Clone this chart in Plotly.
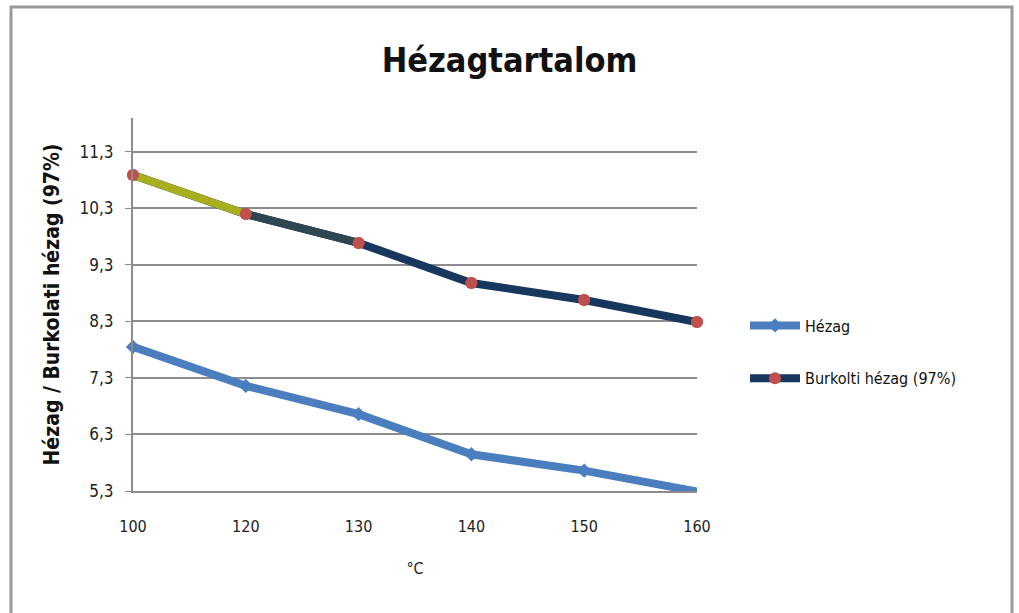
import plotly.graph_objects as go

# ---- data ----
temps = ["100", "120", "130", "140", "150", "160"]
hezag = [7.85, 7.16, 6.66, 5.95, 5.66, 5.29]
burkolati = [10.89, 10.20, 9.69, 8.98, 8.68, 8.29]
series_names = ["Hézag", "Burkolti hézag (97%)"]
y_ticks = [5.3, 6.3, 7.3, 8.3, 9.3, 10.3, 11.3]

FONT = "Liberation Sans Narrow, DejaVu Sans Condensed, Arial Narrow, sans-serif"
BLUE = "#4A7EBF"
NAVY = "#17375E"
RED = "#C0504D"
GRID = "#8C8C8C"

fig = go.Figure()

fig.add_trace(go.Scatter(
    x=temps, y=hezag, name=series_names[0], mode="lines+markers",
    line=dict(color=BLUE, width=8),
    marker=dict(symbol="diamond", size=11, color=BLUE),
    legendgroup="a", cliponaxis=False,
))

fig.add_trace(go.Scatter(
    x=temps, y=burkolati, name=series_names[1], mode="lines+markers",
    line=dict(color=NAVY, width=8),
    marker=dict(symbol="circle", size=12, color=RED),
    legendgroup="b", cliponaxis=False,
))
# colour-graded start of the line (yellow -> navy)
seg_colors = ["#A8AE1C", "#2E4650"]
for i, c in enumerate(seg_colors):
    fig.add_trace(go.Scatter(
        x=temps[i:i + 2], y=burkolati[i:i + 2], mode="lines",
        line=dict(color=c, width=8), showlegend=False,
        legendgroup="b", hoverinfo="skip", cliponaxis=False,
    ))
fig.add_trace(go.Scatter(
    x=temps, y=burkolati, mode="markers",
    marker=dict(symbol="circle", size=12, color=RED),
    showlegend=False, legendgroup="b", cliponaxis=False,
))

fig.update_layout(
    width=1019, height=613,
    margin=dict(l=133, r=322, t=118, b=122),
    paper_bgcolor="white", plot_bgcolor="white",
    separators=", ",
    font=dict(family=FONT, size=15, color="#222222"),
    title=dict(text="<b>Hézagtartalom</b>", x=0.5, xref="container",
               y=1 - 60 / 613, yref="container", yanchor="middle", xanchor="center",
               font=dict(family=FONT, size=34, color="#111111")),
    showlegend=True,
    legend=dict(x=(745 - 133) / 564, xanchor="left", y=(491 - 352) / 373, yanchor="middle",
                font=dict(family=FONT, size=16, color="#111111"),
                tracegroupgap=29, traceorder="grouped", itemwidth=50,
                bgcolor="rgba(0,0,0,0)"),
    xaxis=dict(
        type="category", range=[0, 5], showgrid=False,
        showline=True, linecolor=GRID, linewidth=2,
        ticks="", ticklabelstandoff=20,
        title=dict(text="°C", font=dict(family=FONT, size=16), standoff=28),
        tickfont=dict(family=FONT, size=16, color="#222222"),
    ),
    yaxis=dict(
        range=[5.3, 11.9], tickvals=y_ticks, tickformat=".1f",
        showgrid=True, gridcolor=GRID, gridwidth=1.5,
        showline=True, linecolor=GRID, linewidth=2,
        ticks="outside", ticklen=6, tickcolor=GRID, ticklabelstandoff=8,
        zeroline=False,
        title=dict(text="<b>Hézag / Burkolati hézag (97%)</b>",
                   font=dict(family=FONT, size=21, color="#111111"), standoff=14),
        tickfont=dict(family=FONT, size=17, color="#222222"),
    ),
)

# chart-area frame
fig.add_shape(type="rect", xref="paper", yref="paper",
              x0=(11 - 133) / 564, x1=(1012 - 133) / 564,
              y0=(491 - 640) / 373, y1=(491 - 7) / 373,
              line=dict(color="#9A9A9A", width=3), fillcolor="rgba(0,0,0,0)",
              layer="below")

fig.write_html("out.html")
